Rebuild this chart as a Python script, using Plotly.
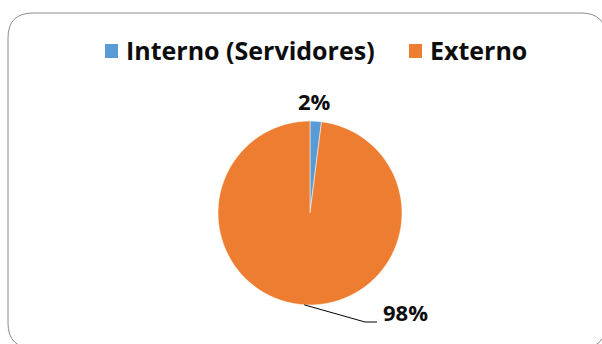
import math
import plotly.graph_objects as go

# Data
categories = ["Interno (Servidores)", "Externo"]
values = [2, 98]
colors = ["#5B9BD5", "#ED7D31"]

W, H = 602, 344
# Pie geometry in pixels
CX, CY, R = 310, 213, 92

def px(x):
    return x / W

def py(y):
    return 1 - y / H

total = sum(values)
pct_labels = [f"{v / total:.0%}" for v in values]

# angle of each slice middle (clockwise from 12 o'clock)
mids = []
acc = 0
for v in values:
    mids.append((acc + v / 2) / total * 2 * math.pi)
    acc += v

def edge_point(theta, r=R):
    return CX + r * math.sin(theta), CY - r * math.cos(theta)

fig = go.Figure(
    go.Pie(
        labels=categories,
        values=values,
        sort=False,
        direction="clockwise",
        rotation=0,
        marker=dict(colors=colors, line=dict(color="white", width=0.5)),
        textinfo="none",
        hoverinfo="label+percent",
        showlegend=False,
        domain=dict(x=[px(CX - R), px(CX + R)], y=[py(CY + R), py(CY - R)]),
    )
)

# Rounded chart frame
x0, y0, x1, y1, rr = 8, 13, 606, 348, 25
frame = (
    f"M {px(x0)},{py(y0 + rr)} "
    f"Q {px(x0)},{py(y0)} {px(x0 + rr)},{py(y0)} "
    f"L {px(x1 - rr)},{py(y0)} "
    f"Q {px(x1)},{py(y0)} {px(x1)},{py(y0 + rr)} "
    f"L {px(x1)},{py(y1 - rr)} "
    f"Q {px(x1)},{py(y1)} {px(x1 - rr)},{py(y1)} "
    f"L {px(x0 + rr)},{py(y1)} "
    f"Q {px(x0)},{py(y1)} {px(x0)},{py(y1 - rr)} Z"
)

shapes = [
    dict(type="path", xref="paper", yref="paper", path=frame,
         line=dict(color="#8C8C8C", width=1), fillcolor="rgba(0,0,0,0)", layer="below"),
]

# Leader line for the large slice label
sx, sy = edge_point(mids[1])
shapes.append(
    dict(type="path", xref="paper", yref="paper",
         path=f"M {px(sx)},{py(sy)} L {px(365)},{py(322)} L {px(377)},{py(322)}",
         line=dict(color="black", width=1))
)

label_font = dict(family="Open Sans", size=22, color="#0D0D0D")
annotations = [
    dict(text=f"<b>{pct_labels[0]}</b>", x=px(314), y=py(101), xref="paper", yref="paper",
         showarrow=False, font=label_font, xanchor="center", yanchor="middle"),
    dict(text=f"<b>{pct_labels[1]}</b>", x=px(405), y=py(312), xref="paper", yref="paper",
         showarrow=False, font=label_font, xanchor="center", yanchor="middle"),
]

# Legend row across the top: colour key square + category name
legend_font = dict(family="Open Sans", size=25, color="#0D0D0D")
key_x = [105, 409]
for kx, name, col in zip(key_x, categories, colors):
    shapes.append(
        dict(type="rect", xref="paper", yref="paper",
             x0=px(kx), x1=px(kx + 13), y0=py(58), y1=py(44),
             fillcolor=col, line=dict(width=0))
    )
    annotations.append(
        dict(text=f"<b>{name}</b>", x=px(kx + 19), y=py(50), xref="paper", yref="paper",
             showarrow=False, font=legend_font, xanchor="left", yanchor="middle")
    )

fig.update_layout(
    width=W,
    height=H,
    margin=dict(l=0, r=0, t=0, b=0),
    paper_bgcolor="white",
    plot_bgcolor="white",
    showlegend=False,
    shapes=shapes,
    annotations=annotations,
)

fig.write_html("out.html")
